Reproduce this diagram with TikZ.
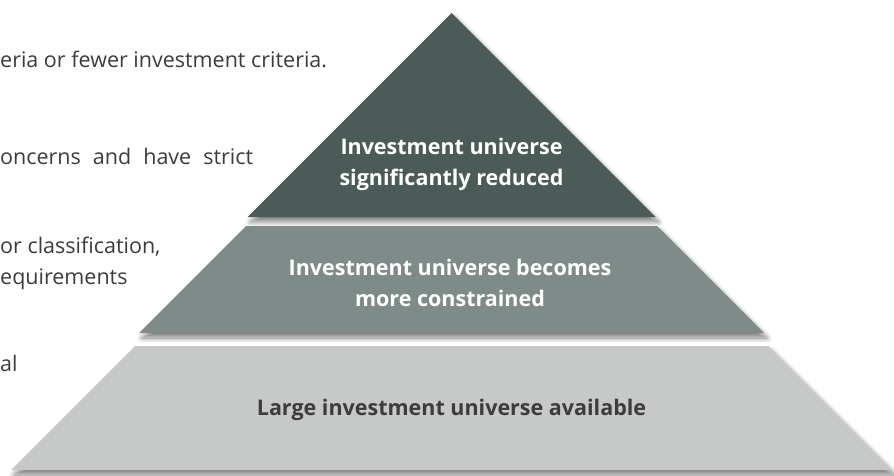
\documentclass[tikz,border=0pt]{standalone}
\usepackage{fontspec}
\setmainfont{Open Sans}
\usetikzlibrary{shadows.blur}

% band colours, darkest at the tip
\definecolor{bandtop}{RGB}{74,91,88}
\definecolor{bandmid}{RGB}{127,139,137}
\definecolor{bandlow}{RGB}{198,201,200}
\definecolor{inktext}{RGB}{60,60,60}

\tikzset{
  band/.style={blur shadow={shadow xshift=3pt, shadow yshift=-5pt,
      shadow blur radius=5pt, shadow opacity=50, shadow blur steps=10}},
  sidetext/.style={anchor=base west, inner sep=0pt, text=inktext,
      font=\fontsize{21.5}{24}\selectfont},
  bandlabel/.style={align=center, inner sep=0pt,
      font=\bfseries\fontsize{21.5}{31}\selectfont},
}

\begin{document}
\begin{tikzpicture}[x=1pt, y=1pt]
    \clip (0,0) rectangle (894,475);

    % ==========================================
    % Text column on the left (runs off the edge)
    % ==========================================
    \node[sidetext] (crit) at (0,407) {eria or fewer investment criteria.};
    \node[sidetext] (strict) at (0,311) {\makebox[253pt][s]{oncerns and have strict}};
    \node[sidetext] (classif) at (0,222) {or classification,};
    \node[sidetext] (requir) at (0,191) {equirements};
    \node[sidetext] (gener) at (0,104) {al};

    % ==========================================
    % Pyramid: drawn top down so each band hides
    % the upper edge of the shadow above it
    % ==========================================
    \fill[bandtop, band] (451.5,462) -- (655.5,258) -- (247.5,258) -- cycle;
    \fill[bandmid, band] (246,249) -- (657,249) -- (764,142) -- (139,142) -- cycle;
    \fill[bandlow, band] (135,129) -- (768,129) -- (892,5) -- (11,5) -- cycle;

    % Band labels
    \node[bandlabel, text=white] (reduced) at (451.5,310.5)
        {Investment universe\\significantly reduced};
    \node[bandlabel, text=white] (constr) at (450,192)
        {Investment universe becomes\\more constrained};
    \node[bandlabel, text=inktext] (large) at (451.5,65)
        {Large investment universe available};
\end{tikzpicture}
\end{document}
